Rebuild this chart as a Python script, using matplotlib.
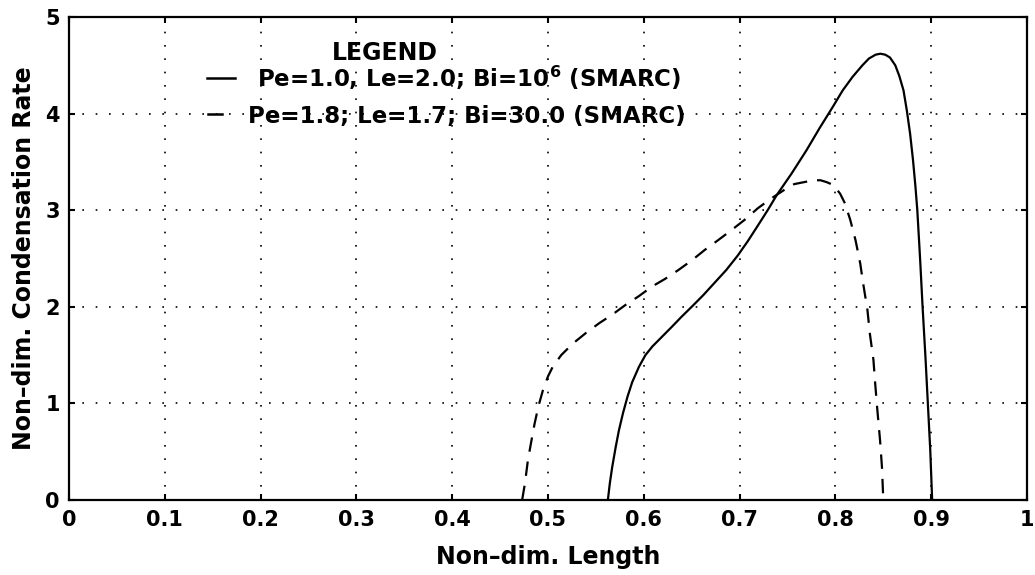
import matplotlib
matplotlib.use("Agg")
import matplotlib.pyplot as plt

# Solid curve: Pe=1.0, Le=2.0, Bi=10^6 (SMARC)
x_solid = [0.5625, 0.5645, 0.567, 0.5707, 0.574, 0.5783, 0.583, 0.5879, 0.595, 0.6017,
           0.609, 0.619, 0.629, 0.6397, 0.650, 0.662, 0.674, 0.686, 0.698, 0.7086,
           0.719, 0.7293, 0.739, 0.7543, 0.7698, 0.7835, 0.7973, 0.8076, 0.8179, 0.8282,
           0.835, 0.842, 0.847, 0.852, 0.857, 0.8625, 0.8667, 0.8711, 0.8746, 0.878,
           0.8810, 0.8835, 0.8855, 0.8885, 0.891, 0.894, 0.8965, 0.899, 0.901]
y_solid = [0.0, 0.17, 0.34, 0.55, 0.72, 0.90, 1.07, 1.22, 1.38, 1.50,
           1.59, 1.69, 1.79, 1.90, 2.00, 2.12, 2.25, 2.38, 2.53, 2.68,
           2.84, 3.00, 3.16, 3.38, 3.62, 3.85, 4.07, 4.24, 4.38, 4.50,
           4.57, 4.61, 4.62, 4.61, 4.58, 4.50, 4.39, 4.24, 4.03, 3.79,
           3.52, 3.25, 3.00, 2.48, 2.00, 1.48, 1.00, 0.52, 0.0]

# Dashed curve: Pe=1.8, Le=1.7, Bi=30.0 (SMARC)
x_dash = [0.473, 0.4759, 0.479, 0.4828, 0.486, 0.490, 0.4948, 0.500, 0.505, 0.5138,
          0.526, 0.5397, 0.5534, 0.5672, 0.581, 0.5948, 0.6086, 0.6224, 0.636, 0.650,
          0.6638, 0.6776, 0.691, 0.7052, 0.719, 0.7328, 0.7466, 0.757, 0.767, 0.7776,
          0.7845, 0.791, 0.798, 0.805, 0.810, 0.8155, 0.821, 0.8259, 0.829, 0.8334,
          0.836, 0.8397, 0.8415, 0.8438, 0.8466, 0.8486, 0.850]
y_dash = [0.0, 0.17, 0.41, 0.62, 0.79, 0.97, 1.14, 1.28, 1.38, 1.50,
          1.62, 1.73, 1.83, 1.92, 2.02, 2.11, 2.21, 2.29, 2.38, 2.48,
          2.59, 2.69, 2.79, 2.90, 3.02, 3.12, 3.21, 3.27, 3.29, 3.31,
          3.31, 3.29, 3.26, 3.17, 3.07, 2.90, 2.69, 2.45, 2.24, 1.97,
          1.72, 1.45, 1.21, 0.93, 0.62, 0.34, 0.0]

xticks = [0, 0.1, 0.2, 0.3, 0.4, 0.5, 0.6, 0.7, 0.8, 0.9, 1]
xticklabels = ["0", "0.1", "0.2", "0.3", "0.4", "0.5", "0.6", "0.7", "0.8", "0.9", "1"]
yticks = [0, 1, 2, 3, 4, 5]
yticklabels = ["0", "1", "2", "3", "4", "5"]

legend_title = "LEGEND"
legend_labels = [r"Pe=1.0, Le=2.0; Bi=10$^{\mathbf{6}}$ (SMARC)",
                 "Pe=1.8; Le=1.7; Bi=30.0 (SMARC)"]

FONT = "DejaVu Sans"
W, H = 1035, 575
fig = plt.figure(figsize=(W / 100, H / 100), dpi=100)
L, R, B, T = 69, 1027, 500, 17
ax = fig.add_axes([L / W, 1 - B / H, (R - L) / W, (B - T) / H])

ax.plot(x_solid, y_solid, color="black", lw=1.6, solid_joinstyle="round")
ax.plot(x_dash, y_dash, color="black", lw=1.6, linestyle=(0, (6.5, 4.5)))

ax.set_xlim(0, 1)
ax.set_ylim(0, 5)
ax.set_xticks(xticks)
ax.set_xticklabels(xticklabels)
ax.set_yticks(yticks)
ax.set_yticklabels(yticklabels)
ax.grid(True, color="black", linestyle=(0, (1, 7)), lw=1.2)
ax.tick_params(direction="in", length=4.5, width=1.5, top=True, right=True,
               labelsize=15)
ax.tick_params(axis="x", pad=7)
ax.tick_params(axis="y", pad=6.5)
for lab in ax.get_xticklabels() + ax.get_yticklabels():
    lab.set_fontweight("bold")
    lab.set_family(FONT)
for s in ax.spines.values():
    s.set_linewidth(1.6)

ax.set_xlabel("Non\u2013dim. Length", fontsize=17, fontweight="bold", family=FONT, labelpad=11)
ax.set_ylabel("Non\u2013dim. Condensation Rate", fontsize=17, fontweight="bold", family=FONT, labelpad=7)

# Legend block drawn as text inside the axes
ax.text(0.274, 4.56, legend_title, fontsize=17, fontweight="bold", family=FONT, va="baseline")
ax.plot([0.144, 0.173], [4.37, 4.37], color="black", lw=1.8)
ax.text(0.196, 4.28, legend_labels[0], fontsize=16.5,
        fontweight="bold", family=FONT, va="baseline")
ax.plot([0.145, 0.160], [4.00, 4.00], color="black", lw=1.8)
ax.text(0.187, 3.90, legend_labels[1], fontsize=16.5,
        fontweight="bold", family=FONT, va="baseline")

fig.savefig("out.png", dpi=100)
